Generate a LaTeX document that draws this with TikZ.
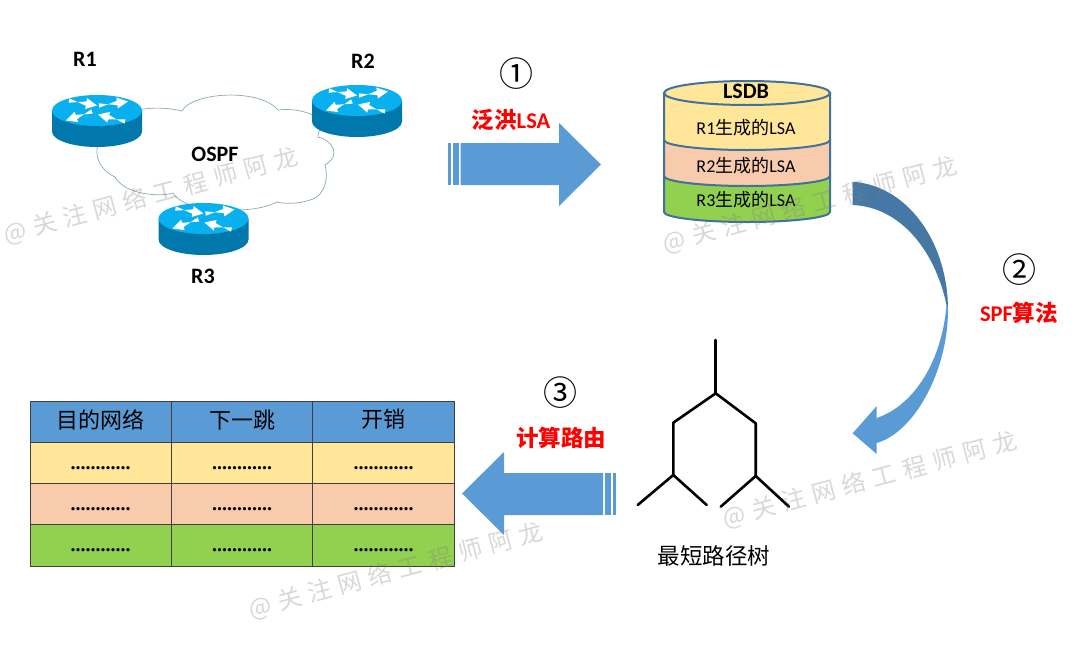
\documentclass[tikz,border=0pt]{standalone}
\usepackage{fontspec}
\setmainfont{Carlito}
\newfontfamily\cjk{Noto Sans CJK SC}
\newfontfamily\wmfont[LetterSpace=30]{Noto Sans CJK SC}
\newfontfamily\dotfont{Liberation Serif}
\usetikzlibrary{calc}
\definecolor{RouterTop}{RGB}{8, 176, 240}
\definecolor{RouterSide}{RGB}{0, 120, 171}
\definecolor{CloudEdge}{RGB}{140, 170, 175}
\definecolor{ArrowBlue}{RGB}{91, 155, 213}
\definecolor{ArrowDark}{RGB}{70, 120, 165}
\definecolor{BandYellow}{RGB}{255, 230, 153}
\definecolor{BandPeach}{RGB}{248, 203, 173}
\definecolor{BandGreen}{RGB}{146, 208, 80}
\definecolor{CylEdge}{RGB}{65, 113, 156}
\tikzset{
    boldlabel/.style={font=\fontsize{22}{26}\selectfont\bfseries},
    lsalabel/.style={font=\fontsize{18}{21}\selectfont},
    redlabel/.style={text=red, inner sep=0pt, font=\fontsize{22.5}{26}\selectfont\bfseries},
    circlabel/.style={inner sep=0pt, font=\fontsize{34}{38}\selectfont\cjk},
    treeline/.style={line width=2.6pt, line cap=round, line join=round},
    tablecell/.style={draw=black!75, line width=1pt, outer sep=0pt, minimum width=141.4, minimum height=41.3, inner sep=0pt, anchor=north west},
    watermark/.style={text=gray, opacity=0.3, rotate=15, inner sep=0pt, font=\fontsize{24}{28}\selectfont\wmfont}
}
\begin{document}
\begin{tikzpicture}[x=1pt, y=-1pt]
    \useasboundingbox (0,0) rectangle (1080,654);
    \fill[white] (0,0) rectangle (1080,654);

    % OSPF cloud behind the routers
    \draw[CloudEdge, line width=0.7pt, fill=white]
        (130,112) .. controls (150,106) and (170,108) .. (182,111)
        .. controls (192,92) and (260,88) .. (278,110)
        .. controls (295,108) and (315,112) .. (325,125)
        .. controls (318,130) and (318,134) .. (318,137)
        .. controls (332,140) and (342,155) .. (325,165)
        .. controls (330,185) and (320,198) .. (310,200)
        .. controls (298,204) and (285,204) .. (277,202)
        .. controls (265,208) and (250,210) .. (235,210)
        .. controls (210,214) and (180,205) .. (173,193)
        .. controls (160,197) and (125,195) .. (115,177)
        .. controls (100,170) and (92,155) .. (100,140)
        .. controls (105,125) and (118,115) .. (130,112) -- cycle;
    \node[boldlabel, inner sep=0pt] (ospf) at (215,154) {OSPF};

    % Routers
    \foreach \cx/\cy in {97/110.5, 357/100.5, 203.5/218.5} {
        \begin{scope}[shift={(\cx,\cy)}]
            \fill[RouterSide] (-45,0) -- (-45,21) arc[start angle=180, end angle=0, x radius=45, y radius=15.5] -- (45,0) -- cycle;
            \fill[RouterTop] (0,0) ellipse[x radius=45, y radius=15.5];
            \foreach \tx/\ty/\hx/\hy in {-28/-10/0/-5, 2/-5/31/-9, -5/1/-31/10, 28/11/1/4} {
                \fill[white] ($(\tx,\ty)!2.2pt!90:(\hx,\hy)$) -- ($(\tx,\ty)!2.2pt!-90:(\hx,\hy)$)
                    -- ($(\hx,\hy)!11pt!(\tx,\ty)!2.2pt!90:(\hx,\hy)$)
                    -- ($(\hx,\hy)!11pt!(\tx,\ty)!5.5pt!90:(\hx,\hy)$) -- (\hx,\hy)
                    -- ($(\hx,\hy)!11pt!(\tx,\ty)!5.5pt!-90:(\hx,\hy)$)
                    -- ($(\hx,\hy)!11pt!(\tx,\ty)!2.2pt!-90:(\hx,\hy)$) -- cycle;
            }
        \end{scope}
    }
    \node[boldlabel, inner sep=0pt] (r1) at (85,59) {R1};
    \node[boldlabel, inner sep=0pt] (r2) at (363,61) {R2};
    \node[boldlabel, inner sep=0pt] (r3) at (203,276) {R3};

    % Flood arrow
    \fill[ArrowBlue] (448,143) rectangle (451,185);
    \fill[ArrowBlue] (452.7,143) rectangle (459,185);
    \fill[ArrowBlue] (460.7,143) -- (559,143) -- (559,123) -- (601,164.5) -- (559,206) -- (559,185) -- (460.7,185) -- cycle;
    \node[circlabel] (stepone) at (516,74) {①};
    \node[redlabel] (flood) at (511,120) {{\cjk 泛洪}LSA};

    % LSDB cylinder, bottom band first
    \foreach \ya/\yb/\col in {176/212/BandGreen, 140/176/BandPeach, 93/140/BandYellow} {
        \draw[CylEdge, line width=2pt, fill=\col] (664,\ya) -- (664,\yb)
            arc[start angle=180, end angle=0, x radius=83, y radius=10] -- (830,\ya) -- cycle;
    }
    \draw[CylEdge, line width=2pt, fill=BandYellow] (747,93) ellipse[x radius=83, y radius=12];
    \node[boldlabel, inner sep=0pt] (lsdb) at (746,91) {LSDB};
    \node[lsalabel, inner sep=0pt] (lsaone) at (746,128) {R1{\cjk 生成的}LSA};
    \node[lsalabel, inner sep=0pt] (lsatwo) at (746,166) {R2{\cjk 生成的}LSA};
    \node[lsalabel, inner sep=0pt] (lsathree) at (746,200) {R3{\cjk 生成的}LSA};

    % Curved SPF arrow
    \fill[ArrowDark] (852.7,181.7) .. controls (910,186) and (948,245) .. (948,310)
        -- (946.5,305) .. controls (935,250) and (900,207) .. (852.7,205) -- cycle;
    \fill[ArrowBlue] (948,310) .. controls (948,370) and (915,432) .. (876.7,443)
        -- (876.7,454) -- (852.7,433.3) -- (876.7,406) -- (876.7,418)
        .. controls (915,405) and (942,360) .. (946.5,305) -- cycle;
    \node[circlabel] (steptwo) at (1019,270) {②};
    \node[redlabel] (spf) at (1019,313) {SPF{\cjk 算法}};

    % Shortest path tree
    \coordinate (root) at (715.7,340);
    \coordinate (fork) at (715.7,393.3);
    \coordinate (shoulderL) at (673.3,422.7);
    \coordinate (jointL) at (673.3,475);
    \coordinate (leafA) at (637.7,505);
    \coordinate (leafB) at (706.7,505);
    \coordinate (shoulderR) at (755.7,423.3);
    \coordinate (jointR) at (755.7,476);
    \coordinate (leafC) at (720.7,506.7);
    \coordinate (leafD) at (789,506.7);
    \draw[treeline] (root) -- (fork);
    \draw[treeline] (leafA) -- (jointL) -- (leafB);
    \draw[treeline] (jointL) -- (shoulderL) -- (fork) -- (shoulderR) -- (jointR);
    \draw[treeline] (leafC) -- (jointR) -- (leafD);
    \node[inner sep=0pt, font=\fontsize{22.5}{26}\selectfont\cjk] (treename) at (714,556) {最短路径树};

    % Route arrow
    \fill[ArrowBlue] (612.7,473) rectangle (615.7,515);
    \fill[ArrowBlue] (604.5,473) rectangle (611,515);
    \fill[ArrowBlue] (603,473) -- (504,473) -- (504,452) -- (462,493.5) -- (504,535) -- (504,515) -- (603,515) -- cycle;
    \node[circlabel] (stepthree) at (560,393) {③};
    \node[redlabel, font=\fontsize{22.5}{26}\selectfont\bfseries\cjk] (route) at (561,438) {计算路由};

    % Routing table
    \foreach \row/\ytop/\col in {1/401/ArrowBlue, 2/442.3/BandYellow, 3/483.6/BandPeach, 4/524.9/BandGreen} {
        \foreach \column/\xleft in {1/30, 2/171.4, 3/312.8} {
            \node[tablecell, fill=\col] (cell-\row-\column) at (\xleft,\ytop) {};
        }
    }
    \node[inner sep=0pt, font=\fontsize{22}{26}\selectfont\cjk] (headA) at ($(cell-1-1)+(0,-2)$) {目的网络};
    \node[inner sep=0pt, font=\fontsize{22}{26}\selectfont\cjk] (headB) at ($(cell-1-2)+(0,-2)$) {下一跳};
    \node[inner sep=0pt, font=\fontsize{22}{26}\selectfont\cjk] (headC) at ($(cell-1-3)+(0,-2)$) {开销};
    \foreach \row in {2,3,4} {
        \foreach \column in {1,2,3} {
            \node[inner sep=0pt, font=\fontsize{20}{24}\selectfont\dotfont\bfseries, yshift=-5pt] (dots-\row-\column) at (cell-\row-\column) {............};
        }
    }

    % Watermarks
    \node[watermark] (markA) at (151,196) {@关注网络工程师阿龙};
    \node[watermark] (markB) at (810,205) {@关注网络工程师阿龙};
    \node[watermark] (markC) at (870,480) {@关注网络工程师阿龙};
    \node[watermark] (markD) at (396,571) {@关注网络工程师阿龙};
\end{tikzpicture}
\end{document}
